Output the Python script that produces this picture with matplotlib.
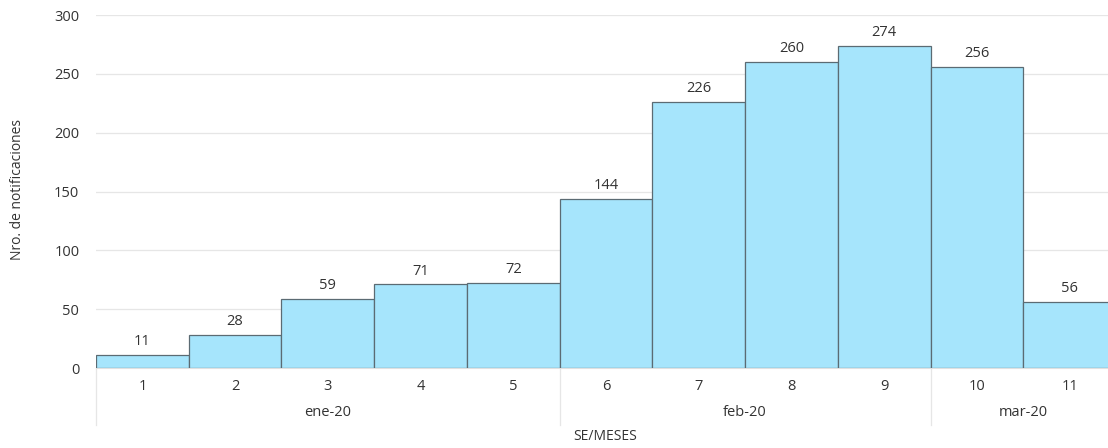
import matplotlib
matplotlib.use("Agg")
import matplotlib.pyplot as plt

# data
semanas = ["1", "2", "3", "4", "5", "6", "7", "8", "9", "10", "11"]
notificaciones = [11, 28, 59, 71, 72, 144, 226, 260, 274, 256, 56]
meses = ["ene-20", "feb-20", "mar-20"]
semanas_por_mes = [5, 4, 2]

plt.rcParams['font.family'] = ['Open Sans', 'DejaVu Sans']

fig = plt.figure(figsize=(11.08, 4.48), dpi=100)
# the last bar runs past the right edge of the picture, as in the original
ax = fig.add_axes([96/1108, 1 - 368/448, 1020/1108, (368 - 15)/448])

x = list(range(len(semanas)))
bars = ax.bar(x, notificaciones, width=1.0, color="#a6e5fc",
              edgecolor="#5b6b73", linewidth=0.9, zorder=3)
for b, v in zip(bars, notificaciones):
    ax.text(b.get_x() + b.get_width()/2, v + 5, str(v), ha="center", va="bottom",
            fontsize=10.5, color="#333333")

ax.set_xlim(-0.5, len(semanas) - 0.5)
ax.set_ylim(0, 300)
ax.set_yticks(range(0, 301, 50))
ax.yaxis.grid(True, color="#e6e6e6", linewidth=0.9, zorder=0)
for s in ["top", "right", "left"]:
    ax.spines[s].set_visible(False)
ax.spines["bottom"].set_color("#e0e0e0")
ax.tick_params(axis="y", length=0, labelsize=10.5, labelcolor="#333333", pad=12)
ax.tick_params(axis="x", length=0, labelsize=10.5, labelcolor="#333333", pad=8)
ax.set_xticks(x)
ax.set_xticklabels(semanas)

# month labels and separators
inicio = -0.5
trans = ax.get_xaxis_transform()
ax.plot([inicio, inicio], [0, -57/353], transform=trans, color="#e6e6e6",
        linewidth=0.9, clip_on=False)
for mes, n in zip(meses, semanas_por_mes):
    fin = inicio + n
    ax.text((inicio + fin)/2, -45/353, mes, transform=trans, ha="center",
            va="center", fontsize=10.5, color="#333333")
    if fin < len(semanas) - 0.5:
        ax.plot([fin, fin], [0, -57/353], transform=trans, color="#e6e6e6",
                linewidth=0.9, clip_on=False)
    inicio = fin

fig.text(605/1108, 1 - 436/448, "SE/MESES", ha="center", va="center",
         fontsize=10, color="#333333")
fig.text(18/1108, 1 - 190/448, "Nro. de notificaciones", ha="center",
         va="center", rotation=90, fontsize=10, color="#333333")

fig.savefig("out.png", dpi=100)
